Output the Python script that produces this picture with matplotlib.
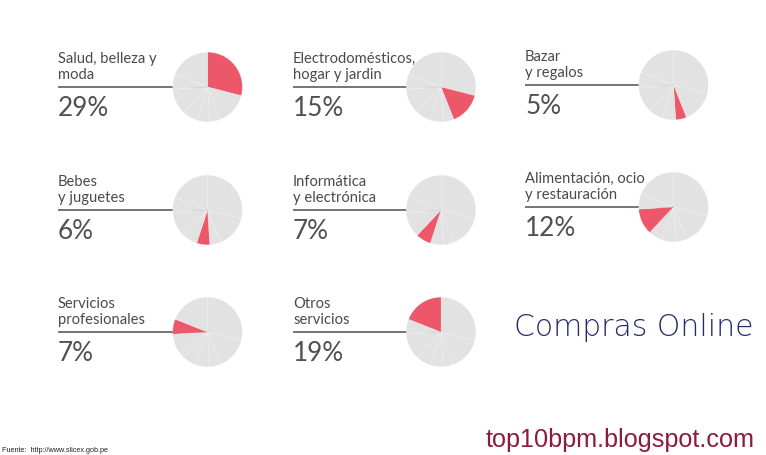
import matplotlib
matplotlib.use("Agg")
import matplotlib.pyplot as plt

# categorias y porcentajes (compras online)
labels = [
    "Salud, belleza y\nmoda",
    "Electrodomésticos,\nhogar y jardin",
    "Bazar\ny regalos",
    "Bebes\ny juguetes",
    "Informática\ny electrónica",
    "Alimentación, ocio\ny restauración",
    "Servicios\nprofesionales",
    "Otros\nservicios",
]
values = [29, 15, 5, 6, 7, 12, 7, 19]
pct_labels = ["29%", "15%", "5%", "6%", "7%", "12%", "7%", "19%"]

W, H = 766, 456
GREY = "#e2e2e2"
RED = "#ec5869"
TXT = "#4a4a4a"

# layout (pixels)
text_x = [58, 293, 525]
pie_x = [207.5, 441, 673.5]
rule_y = [[88, 88, 86], [211, 211, 208], [333, 333, 333]]
R = 35.5

fig = plt.figure(figsize=(W / 100, H / 100), dpi=100)
bg = fig.add_axes([0, 0, 1, 1])
bg.set_xlim(0, W)
bg.set_ylim(H, 0)
bg.axis("off")

for i, (lab, pct) in enumerate(zip(labels, pct_labels)):
    row, col = divmod(i, 3)
    tx = text_x[col]
    cx = pie_x[col]
    ry = rule_y[row][col]

    l1, l2 = lab.split("\n")
    bg.text(tx, ry - 25, l1, fontsize=10.6, family="Lato", color=TXT, va="baseline", ha="left")
    bg.text(tx, ry - 9, l2, fontsize=10.6, family="Lato", color=TXT, va="baseline", ha="left")
    bg.text(tx, ry + 28.5, pct, fontsize=18.8, family="Lato", color="#505050",
            va="baseline", ha="left")
    bg.plot([tx, cx], [ry, ry], color="#6a6a6a", lw=1.3, solid_capstyle="butt")

    cy = ry
    ax = fig.add_axes([(cx - R) / W, 1 - (cy + R) / H, 2 * R / W, 2 * R / H])
    cols = [RED if j == i else GREY for j in range(len(values))]
    ax.pie(values, colors=cols, startangle=90, counterclock=False, radius=1,
           wedgeprops=dict(edgecolor=(1, 1, 1, 0.22), linewidth=0.5))
    ax.set_xlim(-1.02, 1.02)
    ax.set_ylim(-1.02, 1.02)
    ax.axis("off")

bg.text(634, 336, "Compras Online", fontsize=21.5, family="DejaVu Sans", weight="light",
        color="#252a6a", ha="center", va="baseline")
bg.text(755, 447, "top10bpm.blogspot.com", fontsize=18.2,
        family=["Liberation Sans Narrow", "Liberation Sans"], color="#8a1c3c",
        ha="right", va="baseline")
bg.text(2, 452, "Fuente:  http://www.slicex.gob.pe", fontsize=5.2,
        family=["Liberation Sans Narrow", "Liberation Sans"], color="#222222",
        ha="left", va="baseline")

fig.savefig("out.png", dpi=100, facecolor="white")
